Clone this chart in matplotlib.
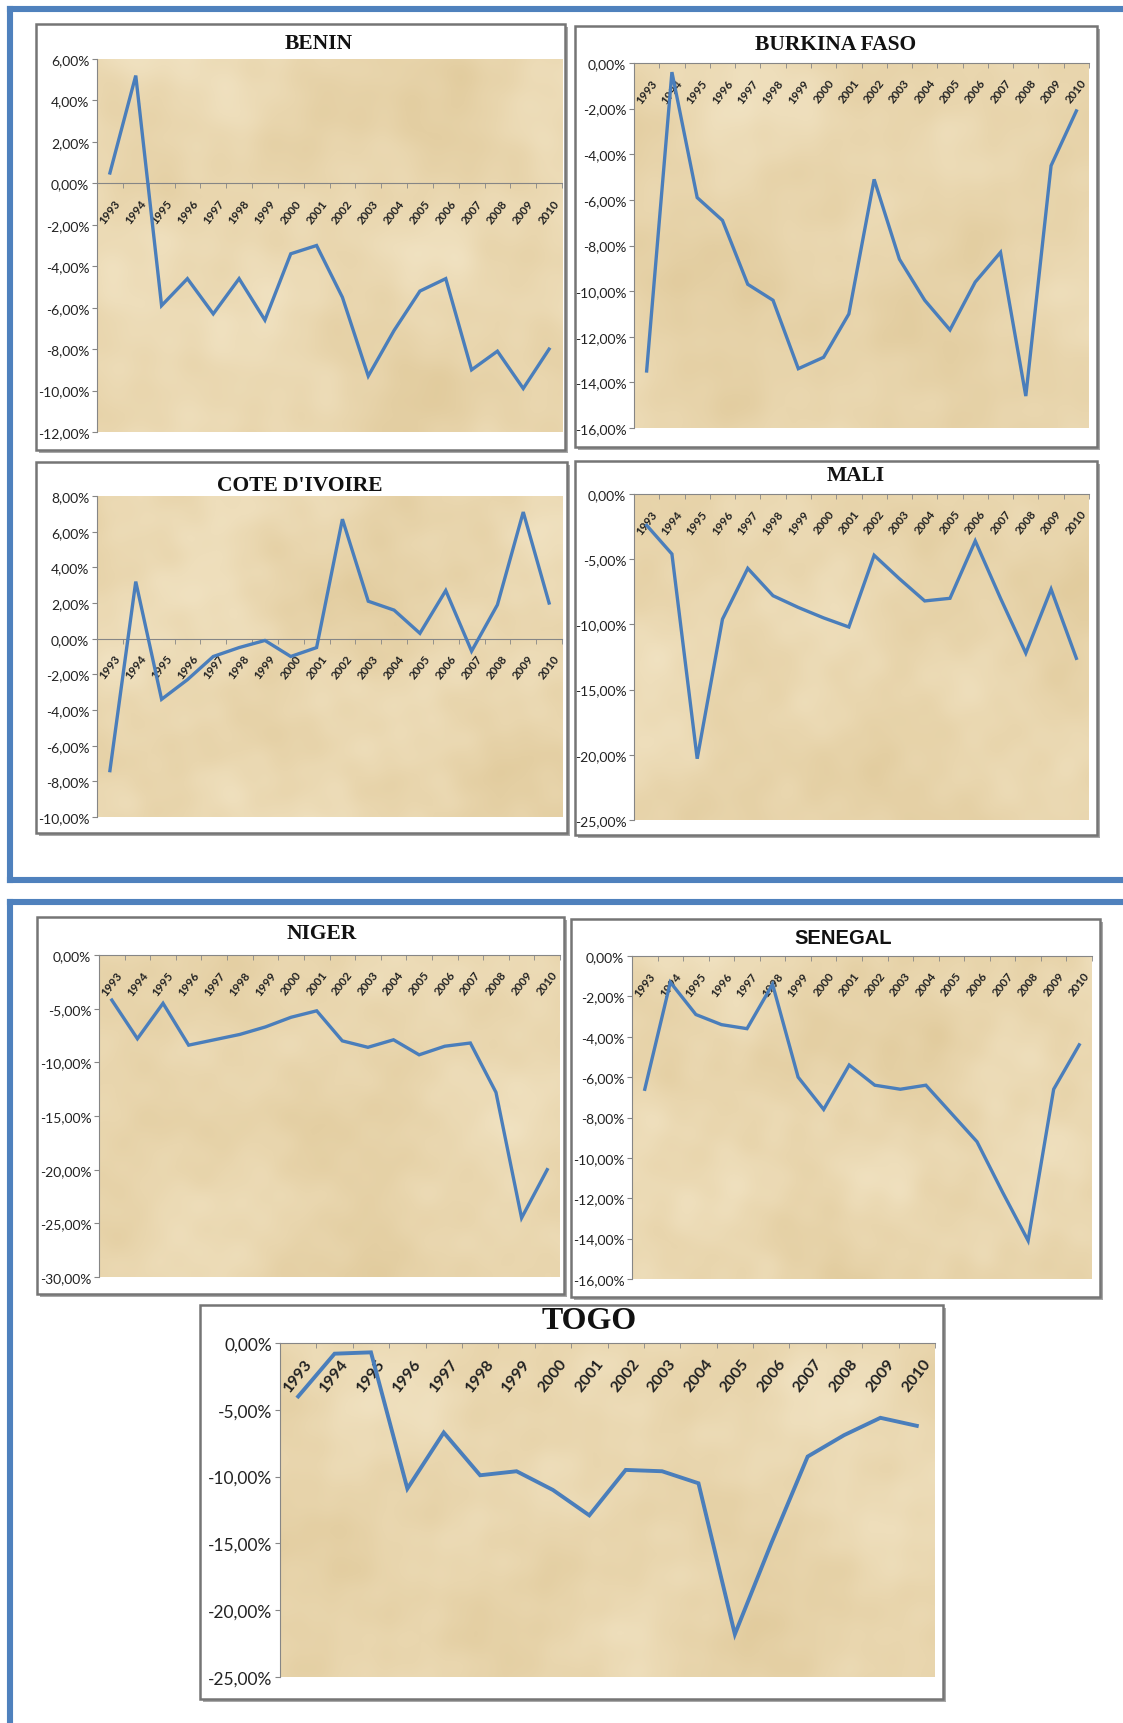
import numpy as np
import matplotlib
matplotlib.use("Agg")
import matplotlib.pyplot as plt
from matplotlib.patches import Rectangle
from matplotlib.lines import Line2D
from matplotlib.colors import LinearSegmentedColormap
from matplotlib.transforms import ScaledTranslation

W, H = 1123, 1724

years = [str(y) for y in range(1993, 2011)]

benin = [0.5, 5.2, -5.9, -4.6, -6.3, -4.6, -6.6, -3.4, -3.0, -5.5,
         -9.3, -7.1, -5.2, -4.6, -9.0, -8.1, -9.9, -8.0]
burkina_faso = [-13.5, -0.4, -5.9, -6.9, -9.7, -10.4, -13.4, -12.9, -11.0, -5.1,
                -8.6, -10.4, -11.7, -9.6, -8.3, -14.6, -4.5, -2.1]
cote_divoire = [-7.4, 3.2, -3.4, -2.3, -1.0, -0.5, -0.1, -1.0, -0.5, 6.7,
                2.1, 1.6, 0.3, 2.7, -0.7, 1.9, 7.1, 2.0]
mali = [-2.4, -4.6, -20.3, -9.6, -5.7, -7.8, -8.7, -9.5, -10.2, -4.7,
        -6.5, -8.2, -8.0, -3.6, -8.0, -12.2, -7.3, -12.6]
niger = [-4.2, -7.8, -4.5, -8.4, -7.9, -7.4, -6.7, -5.8, -5.2, -8.0,
         -8.6, -7.9, -9.3, -8.5, -8.2, -12.8, -24.5, -20.0]
senegal = [-6.6, -1.3, -2.9, -3.4, -3.6, -1.4, -6.0, -7.6, -5.4, -6.4,
           -6.6, -6.4, -7.8, -9.2, -11.7, -14.1, -6.6, -4.4]
togo = [-4.0, -0.8, -0.7, -10.9, -6.7, -9.9, -9.6, -11.0, -12.9, -9.5,
        -9.6, -10.5, -21.8, -15.0, -8.5, -6.9, -5.6, -6.2]

LINE = "#4A7EBB"
FRAME = "#4F81BD"
AXIS = "#868686"
TXT = "#222222"

parchment = LinearSegmentedColormap.from_list(
    "parchment", ["#DFC898", "#E9D6AE", "#F3E6C8"])

# wave directions / frequencies for the paper background
ANGLES = [0.2, 0.9, 1.5, 2.3, 2.8, 0.55, 1.2, 1.95, 2.6, 3.0, 0.35, 1.75]
FREQS = [5, 7, 9, 12, 15, 19, 24, 31, 38, 47, 58, 70]
AMPS = [1.0, 0.9, 0.8, 0.7, 0.6, 0.5, 0.42, 0.36, 0.3, 0.25, 0.2, 0.16]


def fig_rect(l, t, r, b):
    return [l / W, 1 - b / H, (r - l) / W, (b - t) / H]


def texture(shift, aspect):
    yy, xx = np.mgrid[0:1:240j, 0:1:320j]
    xx = xx * aspect
    z = np.zeros_like(xx)
    for i, (a, f, amp) in enumerate(zip(ANGLES, FREQS, AMPS)):
        z += amp * np.sin(f * (np.cos(a + shift) * xx + np.sin(a + shift) * yy)
                          + 1.3 * i + shift)
    z = (z - z.min()) / (z.max() - z.min())
    return 0.15 + 0.7 * z


def pct(v):
    return f"{v:.2f}%".replace(".", ",")


def draw_chart(fig, title, values, box, plot, ylim, step, title_xy,
               title_font, seed, tick_size=10, year_size=8.3, year_pad=20,
               year_dx=-7, lw=2.4):
    l, t, r, b = box
    # shadow + chart area
    fig.patches.append(Rectangle(((l + 3) / W, 1 - (b + 3) / H), (r - l) / W, (b - t) / H,
                                 transform=fig.transFigure, facecolor="#a8a8a8",
                                 edgecolor="none", zorder=0))
    fig.patches.append(Rectangle((l / W, 1 - b / H), (r - l) / W, (b - t) / H,
                                 transform=fig.transFigure, facecolor="white",
                                 edgecolor="#757575", linewidth=1.8, zorder=1))

    ax = fig.add_axes(fig_rect(*plot))
    ax.set_zorder(2)
    pl, pt, pr, pb = plot
    ax.imshow(texture(seed, (pr - pl) / (pb - pt)), cmap=parchment, vmin=0, vmax=1,
              extent=(0, 1, 0, 1), transform=ax.transAxes, aspect="auto",
              zorder=0, interpolation="bicubic")

    x = np.arange(len(years))
    ax.plot(x, values, color=LINE, lw=lw, solid_joinstyle="miter", zorder=3)

    ax.set_xlim(-0.5, len(years) - 0.5)
    ax.set_ylim(*ylim)
    ticks = np.arange(ylim[0], ylim[1] + step / 2, step)
    ax.set_yticks(ticks)
    ax.set_yticklabels([pct(v) for v in ticks], fontsize=tick_size, color=TXT,
                       family="Lato")

    ax.spines["top"].set_visible(False)
    ax.spines["right"].set_visible(False)
    ax.spines["left"].set_color(AXIS)
    ax.spines["bottom"].set_color(AXIS)
    ax.spines["bottom"].set_position(("data", 0))
    ax.spines["bottom"].set_zorder(2)

    ax.set_xticks(x)
    ax.set_xticklabels(years, rotation=52, ha="center", va="center",
                       rotation_mode="anchor", fontsize=year_size, color=TXT,
                       family="Lato", fontweight="bold")
    shift = ScaledTranslation(year_dx / 100, 0, fig.dpi_scale_trans)
    for lab in ax.get_xticklabels():
        lab.set_transform(lab.get_transform() + shift)
    ax.set_xticks(np.arange(-0.5, len(years)), minor=True)
    ax.tick_params(axis="x", which="major", length=0, pad=year_pad)
    ax.tick_params(axis="x", which="minor", length=3.5, color=AXIS, direction="out")
    ax.tick_params(axis="y", length=3.5, color=AXIS, direction="out", pad=2)

    fam, size = title_font
    fig.text(title_xy[0] / W, 1 - title_xy[1] / H, title, ha="center", va="center",
             fontsize=size, fontweight="bold", family=fam, color="#111111", zorder=5)
    return ax


fig = plt.figure(figsize=(W / 100, H / 100), dpi=100)
fig.patch.set_facecolor("white")

# blue page frames
for seg in [((10, 1130), (10, 10)), ((10, 10), (10, 881)), ((10, 1130), (881, 881)),
            ((10, 1130), (903, 903)), ((10, 10), (903, 1730))]:
    xs, ys = seg
    fig.add_artist(Line2D([v / W for v in xs], [1 - v / H for v in ys],
                          transform=fig.transFigure, color=FRAME, lw=4.4,
                          solid_capstyle="projecting"))

serif = (["Liberation Serif", "DejaVu Serif"], 15.5)

draw_chart(fig, "BENIN", benin, (36, 25, 565, 451), (97, 60, 562, 433),
           (-12, 6), 2, (319, 44), serif, 0.0)
draw_chart(fig, "BURKINA FASO", burkina_faso, (575, 27, 1097, 448), (634, 64, 1089, 429),
           (-16, 0), 2, (836, 45), serif, 1.3)
draw_chart(fig, "COTE D'IVOIRE", cote_divoire, (36, 463, 567, 834), (97, 497, 562, 818),
           (-10, 8), 2, (300, 486), serif, 2.6)
draw_chart(fig, "MALI", mali, (575, 462, 1097, 836), (634, 495, 1089, 821),
           (-25, 0), 5, (856, 476), serif, 3.9)
draw_chart(fig, "NIGER", niger, (37, 918, 564, 1295), (99, 956, 560, 1278),
           (-30, 0), 5, (322, 934), serif, 5.2)
draw_chart(fig, "SENEGAL", senegal, (571, 920, 1100, 1298), (632, 957, 1092, 1280),
           (-16, 0), 2, (843, 939), (["Liberation Sans Narrow", "Liberation Sans"], 14.5), 6.5)
draw_chart(fig, "TOGO", togo, (200, 1306, 943, 1700), (280, 1344, 935, 1678),
           (-25, 0), 5, (589, 1322), (["Liberation Serif", "DejaVu Serif"], 23), 7.8,
           tick_size=12.5, year_size=11.5, year_pad=23, year_dx=0, lw=2.8)

fig.savefig("out.png", dpi=100)
